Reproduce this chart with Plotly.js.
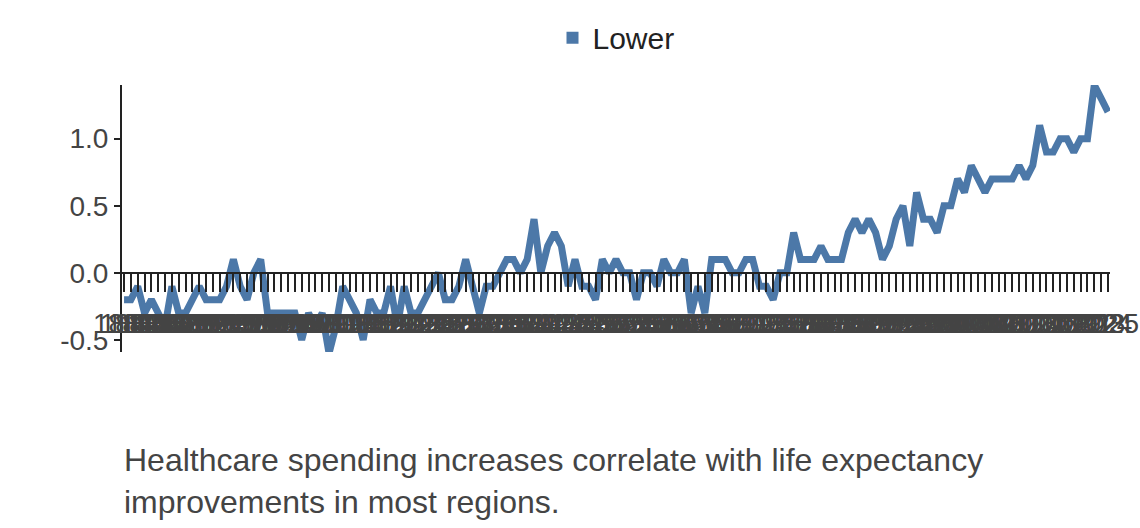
<!DOCTYPE html>
<html>
<head>
<meta charset="utf-8">
<script src="https://cdn.plot.ly/plotly-3.0.1.min.js"></script>
<style>body{margin:0;background:#fff}#plot{width:1140px;height:528px}</style>
</head>
<body>
<div id="plot"></div>
<script>
const series_name = "Lower"
const end_year = 2025
const lower_values = [
    -0.2, -0.2, -0.1, -0.3, -0.2, -0.3, -0.4, -0.1, -0.3, -0.3, -0.2,
    -0.1, -0.2, -0.2, -0.2, -0.1, 0.1, -0.1, -0.2, 0.0, 0.1,
    -0.3, -0.3, -0.3, -0.3, -0.3, -0.5, -0.3, -0.4, -0.3, -0.6, -0.4, -0.1, -0.2, -0.3, -0.5,
    -0.2, -0.3, -0.3, -0.1, -0.4, -0.1, -0.3, -0.3, -0.2, -0.1, 0.0, -0.2, -0.2, -0.1, 0.1,
    -0.1, -0.3, -0.1, -0.1, 0.0, 0.1, 0.1, 0.0, 0.1, 0.4, 0.0, 0.2, 0.3, 0.2, -0.1, 0.1,
    -0.1, -0.1, -0.2, 0.1, 0.0, 0.1, 0.0, 0.0, -0.2, 0.0, 0.0, -0.1, 0.1, 0.0, 0.0, 0.1,
    -0.3, -0.1, -0.3, 0.1, 0.1, 0.1, 0.0, 0.0, 0.1, 0.1, -0.1, -0.1, -0.2, 0.0, 0.0, 0.3,
    0.1, 0.1, 0.1, 0.2, 0.1, 0.1, 0.1, 0.3, 0.4, 0.3, 0.4, 0.3, 0.1, 0.2, 0.4, 0.5, 0.2,
    0.6, 0.4, 0.4, 0.3, 0.5, 0.5, 0.7, 0.6, 0.8, 0.7, 0.6, 0.7, 0.7, 0.7, 0.7, 0.8, 0.7,
    0.8, 1.1, 0.9, 0.9, 1.0, 1.0, 0.9, 1.0, 1.0, 1.4, 1.3, 1.2
]
const years = lower_values.map((v, i) => String(end_year - lower_values.length + 1 + i))
const caption = "Healthcare spending increases correlate with life expectancy<br>improvements in most regions."

const color = "#4c78a8"
const y_range = [-0.59, 1.40]

let data = []
data.push({type: "scatter", mode: "lines", x: years, y: lower_values, name: series_name,
    showlegend: false, line: {color: color, width: 7}, hoverinfo: "x+y"})
// empty bar so the legend shows a square swatch
data.push({type: "bar", x: [null], y: [null], name: series_name, marker: {color: color}})

const layout = {
    width: 1140, height: 528,
    font: {family: "Liberation Sans, Arial, sans-serif", size: 28, color: "#444"},
    paper_bgcolor: "#fff", plot_bgcolor: "#fff",
    margin: {l: 122, r: 30, t: 75, b: 176},
    showlegend: true,
    legend: {orientation: "h", x: 0.5, xanchor: "center", y: 1.08, yanchor: "bottom", font: {size: 30, color: "#222"}},
    xaxis: {type: "category", anchor: "free", position: -y_range[0] / (y_range[1] - y_range[0]),
        showline: true, linecolor: "#222", linewidth: 2, ticks: "outside", ticklen: 18, tickwidth: 2,
        tickcolor: "#222", dtick: 1, tickangle: 0, showgrid: false, zeroline: false, ticklabelstandoff: 8,
        tickfont: {size: 28, color: "#444"}, range: [-0.3, lower_values.length - 0.7]},
    yaxis: {range: y_range, showline: true, linecolor: "#222", linewidth: 2, ticks: "outside",
        ticklen: 6, tickwidth: 2, tickcolor: "#222", tickvals: [-0.5, 0, 0.5, 1.0],
        ticktext: ["-0.5", "0.0", "0.5", "1.0"], showgrid: false, zeroline: false,
        tickfont: {size: 28, color: "#444"}},
    annotations: [{text: caption, xref: "paper", yref: "paper", x: 0, y: -0.33, xanchor: "left",
        yanchor: "top", align: "left", showarrow: false, font: {size: 32, color: "#444"}}]
}

Plotly.newPlot(document.getElementById("plot"), data, layout, {displayModeBar: false})
</script>
</body>
</html>
